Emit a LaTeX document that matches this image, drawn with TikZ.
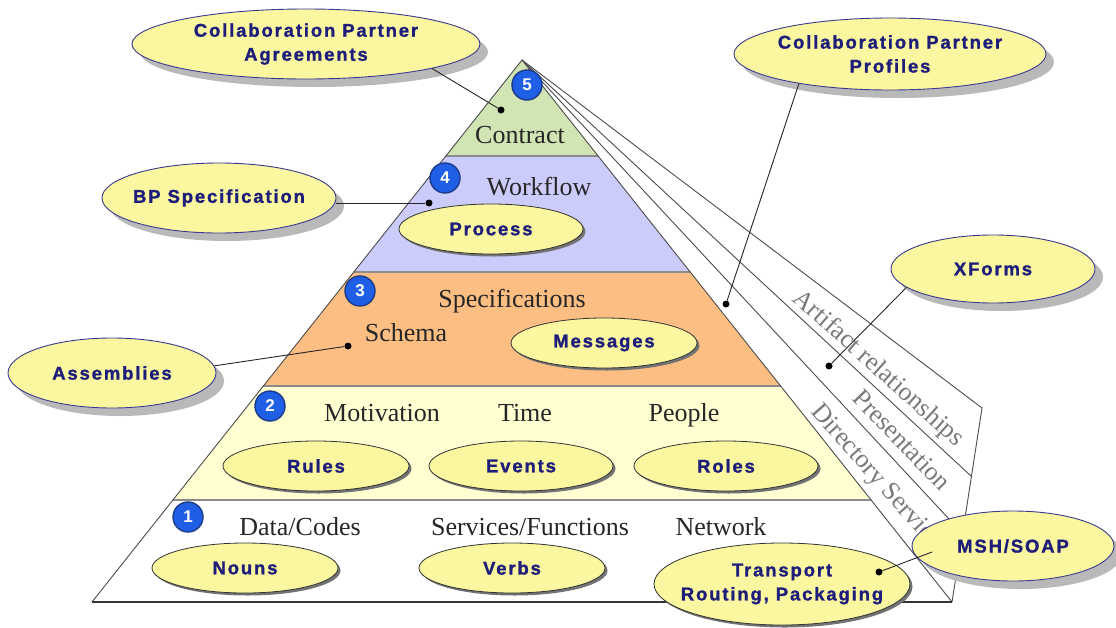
\documentclass[tikz,border=0pt]{standalone}
\usepackage{fontspec}
\setmainfont{Liberation Serif}
\newfontfamily\elf[LetterSpace=10, BoldFeatures={FakeBold=1.3}]{Liberation Sans}
\newfontfamily\bdgf{Liberation Sans}
\usetikzlibrary{shapes.geometric,shadows}
\definecolor{cfive}{HTML}{D0E4B4}
\definecolor{cfour}{HTML}{CCCCFC}
\definecolor{cthree}{HTML}{FCBE82}
\definecolor{ctwo}{HTML}{FFFFD2}
\definecolor{ellfill}{HTML}{FAF7A0}
\definecolor{ellline}{HTML}{3A3A90}
\definecolor{innline}{HTML}{333333}
\definecolor{elltext}{HTML}{1E1E7A}
\definecolor{badgeblue}{HTML}{1F5FE6}
\definecolor{badgeline}{HTML}{1A3A8A}
\definecolor{stripgray}{HTML}{7A7A7A}
\newcommand{\ztxt}[1]{\makebox[0pt][c]{#1}}
\begin{document}
\begin{tikzpicture}[x=1pt,y=-1pt,
  ellbase/.style={ellipse, fill=ellfill, inner sep=0pt, text=elltext,
    font=\elf\bfseries\fontsize{18.5}{24}\selectfont, align=center},
  callout/.style={ellbase, draw=ellline, line width=0.9pt,
    drop shadow={shadow xshift=8pt, shadow yshift=-8pt, fill=gray!55, opacity=1}},
  inell/.style={ellbase, draw=innline, line width=0.8pt,
    drop shadow={shadow xshift=2.5pt, shadow yshift=-2.5pt, fill=gray!90!black, opacity=1}},
  lbl/.style={anchor=base, font=\fontsize{26}{30}\selectfont, text=black!85, inner sep=0pt},
  striplbl/.style={font=\fontsize{26}{30}\selectfont, text=stripgray, inner sep=0pt},
  badge/.style={circle, fill=badgeblue, draw=badgeline, line width=1.4pt, minimum size=30pt,
    inner sep=0pt, text=white, font=\bdgf\bfseries\fontsize{17}{17}\selectfont},
  dot/.style={circle, fill=black, inner sep=0pt, minimum size=7pt},
  conn/.style={draw=black!85, line width=0.9pt},
  edge/.style={draw=black!70, line width=0.9pt},
  sep/.style={draw=black!45, line width=1.4pt},
]
\useasboundingbox (0,0) rectangle (1116,627);
\fill[white] (0,0) rectangle (1116,627);

% side strips
\fill[white] (522,60) -- (982,408) -- (952,602) -- cycle;
\draw[edge] (522,60) -- (982,408) -- (952,602);
\draw[edge] (522,60) -- (971,476);
\draw[edge] (522,60) -- (962,533);

% layers
\fill[cfive] (522,60) -- (598.2,156) -- (445.8,156) -- cycle;
\fill[cfour] (445.8,156) -- (598.2,156) -- (690.2,272) -- (353.8,272) -- cycle;
\fill[cthree] (353.8,272) -- (690.2,272) -- (780.7,386) -- (263.3,386) -- cycle;
\fill[ctwo] (263.3,386) -- (780.7,386) -- (871.1,500) -- (172.9,500) -- cycle;
\draw[sep] (445.8,156) -- (598.2,156);
\draw[sep] (353.8,272) -- (690.2,272);
\draw[sep] (263.3,386) -- (780.7,386);
\draw[sep] (172.9,500) -- (871.1,500);
\draw[edge] (952,602) -- (522,60) -- (92,602);
\draw[draw=black!80, line width=2pt] (92,602) -- (952,602);

% strip labels
\node[striplbl, rotate=-42] (tart) at (878,369) {Artifact relationships};
\node[striplbl, rotate=-46] (tpre) at (902,440) {Presentation};
\node[striplbl, rotate=-48.5] (tdir) at (879,481) {Directory Services};

% layer labels
\node[lbl] (tcon) at (520,143) {Contract};
\node[lbl] (twork) at (539,195) {Workflow};
\node[lbl] (tspec) at (512,307) {Specifications};
\node[lbl] (tsch) at (406,341) {Schema};
\node[lbl] (tmot) at (382,421) {Motivation};
\node[lbl] (ttime) at (525,421) {Time};
\node[lbl] (tpeo) at (684,421) {People};
\node[lbl] (tdata) at (300,535) {Data/Codes};
\node[lbl] (tserv) at (530,535) {Services/Functions};
\node[lbl] (tnet) at (721,535) {Network};

% inner ellipses
\node[inell, minimum width=184pt, minimum height=50pt] (proc) at (491,229) {\ztxt{Process}};
\node[inell, minimum width=186pt, minimum height=50pt] (msg) at (604,343) {\ztxt{Messages}};
\node[inell, minimum width=186pt, minimum height=50pt] (rules) at (316,466) {\ztxt{Rules}};
\node[inell, minimum width=184pt, minimum height=50pt] (events) at (521,466) {\ztxt{Events}};
\node[inell, minimum width=184pt, minimum height=50pt] (roles) at (726,466) {\ztxt{Roles}};
\node[inell, minimum width=186pt, minimum height=50pt] (nouns) at (245,568) {\ztxt{Nouns}};
\node[inell, minimum width=186pt, minimum height=50pt] (verbs) at (512,568) {\ztxt{Verbs}};
\node[inell, minimum width=256pt, minimum height=82pt] (trans) at (782,584) {\ztxt{Transport}\\\ztxt{Routing, Packaging}};

% callout ellipses
\node[callout, minimum width=348pt, minimum height=70pt] (agr) at (306,44) {\ztxt{Collaboration Partner}\\\ztxt{Agreements}};
\node[callout, minimum width=312pt, minimum height=72pt] (prof) at (890,54) {\ztxt{Collaboration Partner}\\\ztxt{Profiles}};
\node[callout, minimum width=234pt, minimum height=70pt] (bp) at (219,198) {\ztxt{BP Specification}};
\node[callout, minimum width=204pt, minimum height=68pt] (xf) at (993,269) {\ztxt{XForms}};
\node[callout, minimum width=208pt, minimum height=70pt] (asm) at (112,373) {\ztxt{Assemblies}};
\node[callout, minimum width=202pt, minimum height=70pt] (msh) at (1013,546) {\ztxt{MSH/SOAP}};

% dots
\node[dot] (dA) at (501,110) {};
\node[dot] (dB) at (429,203) {};
\node[dot] (dP) at (726,304) {};
\node[dot] (dX) at (829,366) {};
\node[dot] (dS) at (348,346) {};
\node[dot] (dT) at (879,572) {};
\coordinate (mshin) at (932,552);

% connectors
\draw[conn] (agr.-11) -- (dA);
\draw[conn] (bp.east |- dB) -- (dB);
\draw[conn] (prof.-162) -- (dP);
\draw[conn] (xf.-168) -- (dX);
\draw[conn] (asm.4) -- (dS);
\draw[conn] (dT) -- (mshin);

% badges
\node[badge] (b5) at (527,85) {5};
\node[badge] (b4) at (445,178) {4};
\node[badge] (b3) at (360,291) {3};
\node[badge] (b2) at (270,406) {2};
\node[badge] (b1) at (188,517) {1};
\end{tikzpicture}
\end{document}
